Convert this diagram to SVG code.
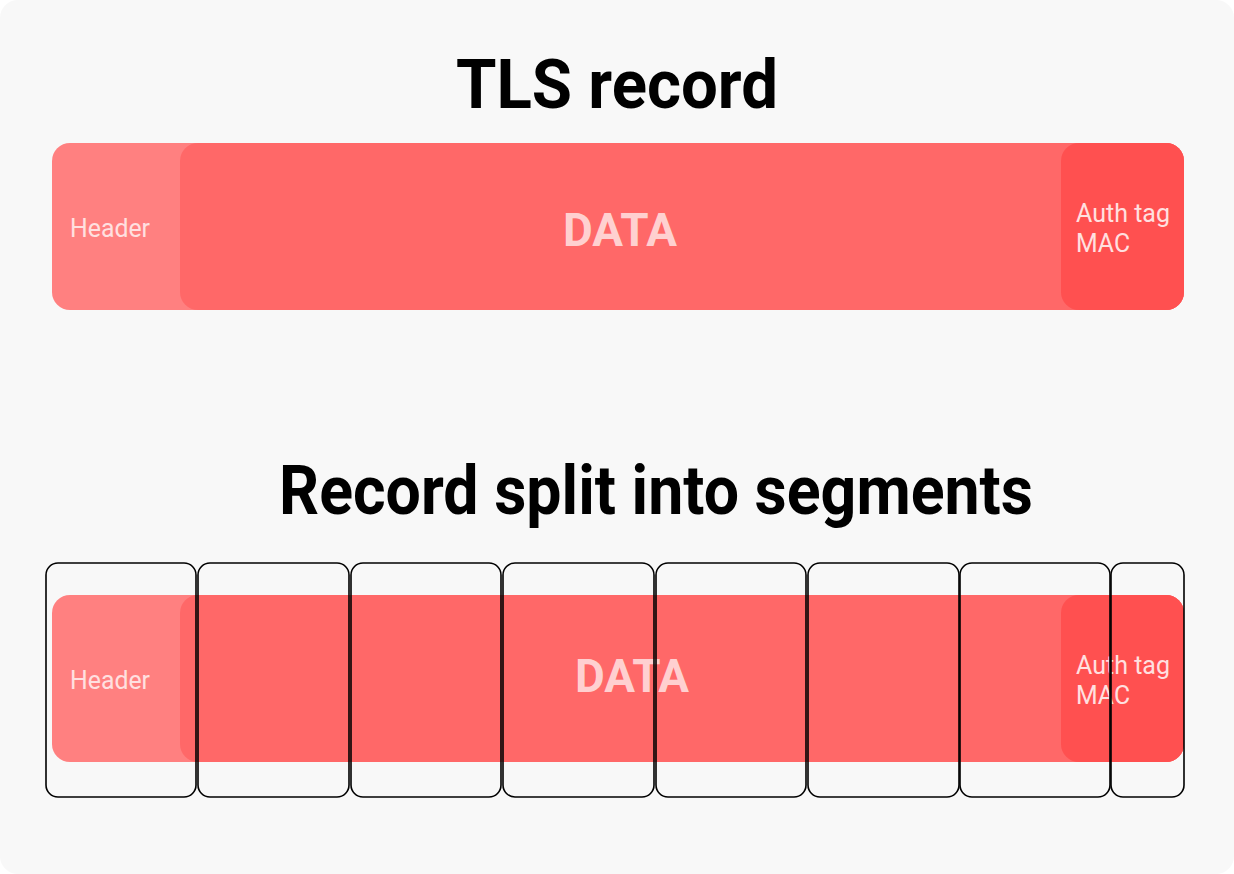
<svg xmlns="http://www.w3.org/2000/svg" width="1234" height="874" viewBox="0 0 1234 874">
<style>
.t{font-family:Roboto,"Liberation Sans",sans-serif;font-weight:bold;fill:#000;font-size:68px}
.l{font-family:Roboto,"Liberation Sans",sans-serif;fill:#ffe0e0;font-size:26px}
.d{font-family:Roboto,"Liberation Sans",sans-serif;font-weight:bold;fill:#ffd0d0;font-size:46px}
.hd{fill:#ff8080}.dt{fill:#ff6868}.au{fill:#ff5050}
.sg{fill:none;stroke:#000;stroke-width:1.6}
</style>
<rect x="0" y="0" width="1234" height="874" rx="18" fill="#f8f8f8"/>
<text class="t" x="617" y="108" text-anchor="middle" textLength="322" lengthAdjust="spacingAndGlyphs">TLS record</text>
<g id="record">
<rect class="hd" x="52" y="143" width="1132" height="167" rx="18"/>
<rect class="dt" x="180" y="143" width="1004" height="167" rx="18"/>
<rect class="au" x="1061" y="143" width="123" height="167" rx="18"/>
<text class="l" x="70" y="237" textLength="80" lengthAdjust="spacingAndGlyphs">Header</text>
<text class="d" x="620" y="246" text-anchor="middle" textLength="114" lengthAdjust="spacingAndGlyphs">DATA</text>
<text class="l" x="1076" y="222" textLength="94" lengthAdjust="spacingAndGlyphs">Auth tag</text>
<text class="l" x="1076" y="252" textLength="54" lengthAdjust="spacingAndGlyphs">MAC</text>
</g>
<text class="t" x="656" y="514" text-anchor="middle" textLength="754" lengthAdjust="spacingAndGlyphs">Record split into segments</text>
<g id="record2">
<rect class="hd" x="52" y="595" width="1132" height="167" rx="18"/>
<rect class="dt" x="180" y="595" width="1004" height="167" rx="18"/>
<rect class="au" x="1061" y="595" width="123" height="167" rx="18"/>
<text class="l" x="70" y="689" textLength="80" lengthAdjust="spacingAndGlyphs">Header</text>
<text class="d" x="632" y="692" text-anchor="middle" textLength="114" lengthAdjust="spacingAndGlyphs">DATA</text>
<text class="l" x="1076" y="674" textLength="94" lengthAdjust="spacingAndGlyphs">Auth tag</text>
<text class="l" x="1076" y="704" textLength="54" lengthAdjust="spacingAndGlyphs">MAC</text>
</g>
<g id="segments">
<rect class="sg" x="46" y="563" width="150" height="234" rx="12"/>
<rect class="sg" x="198" y="563" width="151" height="234" rx="12"/>
<rect class="sg" x="351" y="563" width="150" height="234" rx="12"/>
<rect class="sg" x="503" y="563" width="151" height="234" rx="12"/>
<rect class="sg" x="656" y="563" width="150" height="234" rx="12"/>
<rect class="sg" x="808" y="563" width="151" height="234" rx="12"/>
<rect class="sg" x="960" y="563" width="150" height="234" rx="12"/>
<rect class="sg" x="1111" y="563" width="73" height="234" rx="12"/>
</g>
</svg>
